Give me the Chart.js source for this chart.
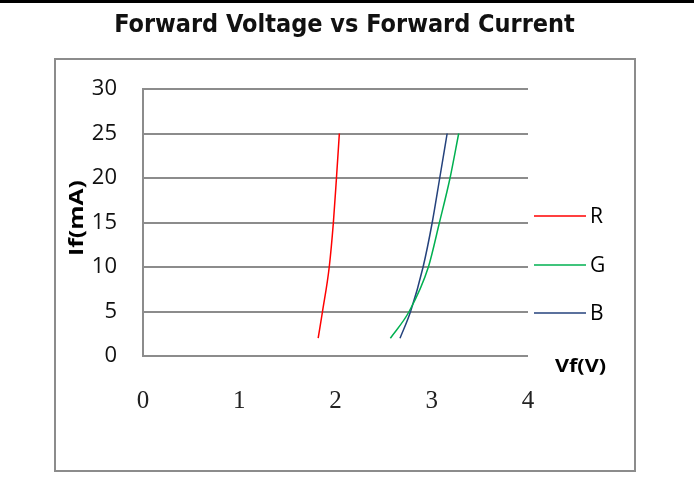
<!DOCTYPE html>
<html lang="en">
<head>
  <meta charset="UTF-8" />
  <title>Forward Voltage vs Forward Current</title>
  <script src="https://cdn.jsdelivr.net/npm/chart.js"></script>
  <style>
    body {
      margin: 0;
      background: #fff;
    }

    .wrap {
      position: relative;
      width: 694px;
      height: 479px;
      overflow: hidden;
    }

    .top-rule {
      position: absolute;
      left: 0;
      top: 0;
      width: 694px;
      height: 3px;
      background: #000;
    }

    .frame {
      position: absolute;
      left: 54px;
      top: 58px;
      width: 578px;
      height: 410px;
      border: 2px solid #8c8c8c;
    }

    canvas {
      position: absolute;
      left: 0;
      top: 0;
    }
  </style>
</head>
<body>

  <div class="wrap">
    <div class="top-rule"></div>
    <div class="frame"></div>
    <canvas id="ivChart" width="694" height="479"></canvas>
  </div>

  <script>
    // forward current sample points (mA)
    const currentMA = [2, 5, 10, 15, 20, 25];

    // forward voltage per colour at those currents (V)
    const voltR = [1.82, 1.865, 1.935, 1.978, 2.01, 2.04];
    const voltG = [2.57, 2.765, 2.965, 3.08, 3.19, 3.28];
    const voltB = [2.67, 2.78, 2.91, 3.005, 3.083, 3.16];

    const seriesNames = ['R', 'G', 'B'];
    const seriesColors = ['#ff0000', '#00b050', '#24427c'];

    const xTicks = [0, 1, 2, 3, 4];
    const yTicks = [0, 5, 10, 15, 20, 25, 30];

    const chartTitle = 'Forward Voltage vs Forward Current';
    const xTitle = 'Vf(V)';
    const yTitle = 'If(mA)';

    function toPoints(volts) {
      return volts.map((v, i) => ({ x: v, y: currentMA[i] }));
    }

    // title, axis titles and right-hand legend, drawn on the canvas
    const annotations = {
      id: 'annotations',
      afterDraw(chart) {
        const ctx = chart.ctx;
        ctx.save();

        // title, centred over the frame
        ctx.fillStyle = '#111';
        ctx.textAlign = 'center';
        ctx.textBaseline = 'middle';
        ctx.font = 'bold 25px "Liberation Sans Narrow", "DejaVu Sans Condensed", sans-serif';
        ctx.fillText(chartTitle, 344.5, 25);

        // y axis title, rotated and a little stretched
        ctx.save();
        ctx.translate(77.5, 218);
        ctx.rotate(-Math.PI / 2);
        ctx.scale(1.3, 1);
        ctx.font = 'bold 19px "Open Sans", sans-serif';
        ctx.fillStyle = '#000';
        ctx.fillText(yTitle, 0, 0);
        ctx.restore();

        // x axis title sits right of the plot
        ctx.save();
        ctx.translate(580.5, 367);
        ctx.scale(1.2, 1);
        ctx.font = 'bold 18px "Open Sans", sans-serif';
        ctx.fillStyle = '#000';
        ctx.fillText(xTitle, 0, 0);
        ctx.restore();

        // legend
        const rows = [216, 265, 313];
        chart.data.datasets.forEach((ds, i) => {
          const y = rows[i];
          ctx.strokeStyle = ds.borderColor;
          ctx.lineWidth = 1.5;
          ctx.beginPath();
          ctx.moveTo(534, y);
          ctx.lineTo(586, y);
          ctx.stroke();
          ctx.fillStyle = '#000';
          ctx.textAlign = 'left';
          ctx.font = '21px "Open Sans", sans-serif';
          ctx.fillText(ds.label, 590, y + 1);
        });

        ctx.restore();
      }
    };

    new Chart(document.getElementById('ivChart'), {
      type: 'line',
      data: {
        datasets: [
          { label: seriesNames[0], data: toPoints(voltR), borderColor: seriesColors[0] },
          { label: seriesNames[1], data: toPoints(voltG), borderColor: seriesColors[1] },
          { label: seriesNames[2], data: toPoints(voltB), borderColor: seriesColors[2] }
        ].map(ds => Object.assign(ds, {
          borderWidth: 1.5,
          pointRadius: 0,
          fill: false,
          cubicInterpolationMode: 'monotone'
        }))
      },
      options: {
        responsive: false,
        animation: false,
        layout: {
          padding: { left: 55, top: 89, right: 166, bottom: 59 }
        },
        plugins: {
          legend: { display: false },
          title: { display: false },
          tooltip: { enabled: false }
        },
        scales: {
          x: {
            type: 'linear',
            min: xTicks[0],
            max: xTicks[xTicks.length - 1],
            afterBuildTicks: axis => { axis.ticks = xTicks.map(v => ({ value: v })); },
            afterFit: axis => { axis.height = 64; },
            grid: { display: false, drawTicks: false },
            border: { display: false },
            ticks: {
              padding: 30,
              color: '#222',
              font: { family: '"Liberation Serif", serif', size: 25 }
            }
          },
          y: {
            type: 'linear',
            min: yTicks[0],
            max: yTicks[yTicks.length - 1],
            afterBuildTicks: axis => { axis.ticks = yTicks.map(v => ({ value: v })); },
            afterFit: axis => { axis.width = 88; },
            grid: { color: '#8c8c8c', lineWidth: 2, drawTicks: false },
            border: { display: true, color: '#8c8c8c', width: 2 },
            ticks: {
              padding: 26,
              color: '#111',
              font: { family: '"Open Sans", sans-serif', size: 22 }
            }
          }
        }
      },
      plugins: [annotations]
    });
  </script>

</body>
</html>
